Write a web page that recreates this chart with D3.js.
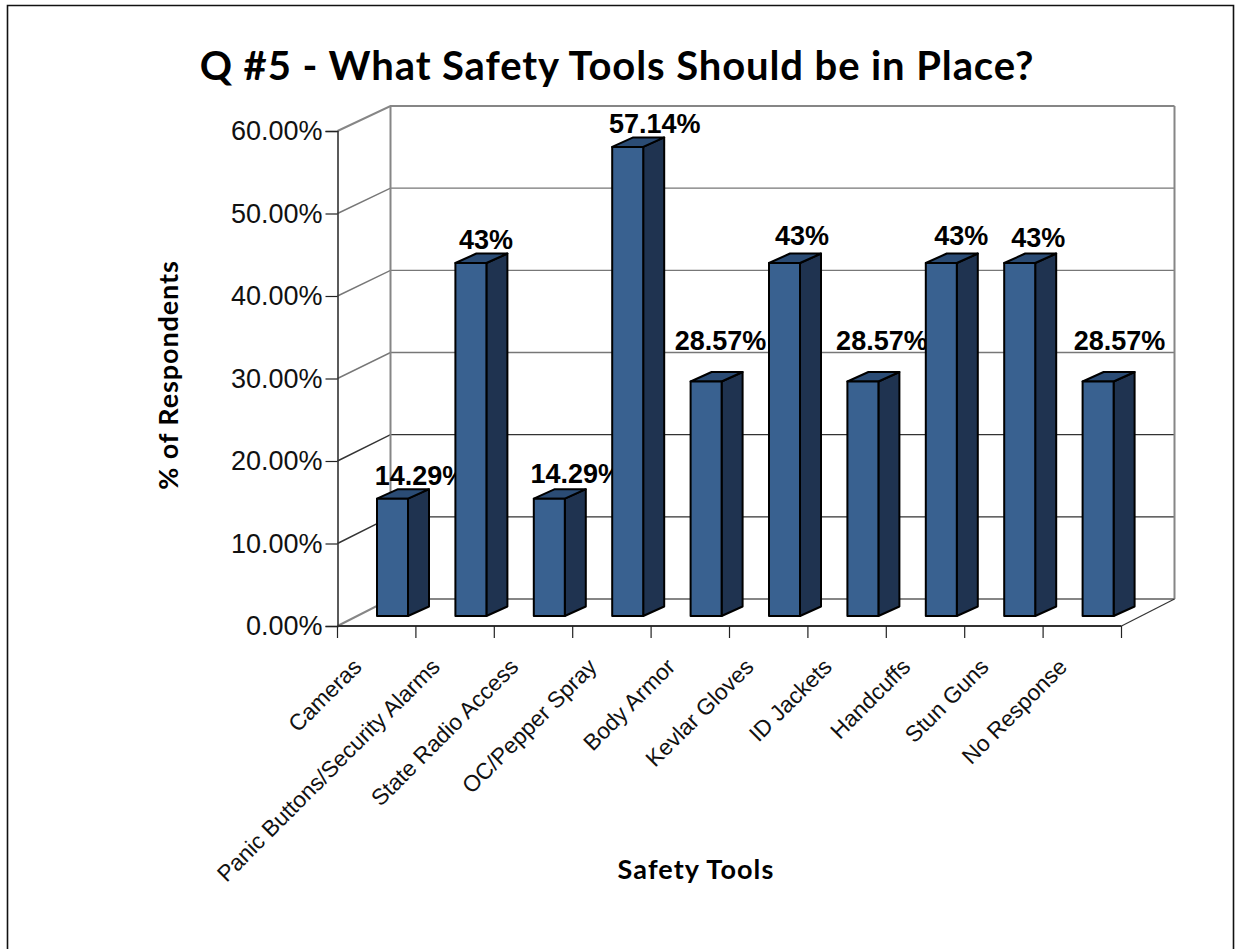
<!DOCTYPE html>
<html>
<head>
<meta charset="utf-8">
<script src="https://cdn.jsdelivr.net/npm/d3@7"></script>
<style>
  html, body { margin: 0; background: #fff; }
  svg { display: block; }
</style>
</head>
<body>
<script>
const categories = ["Cameras", "Panic Buttons/Security Alarms", "State Radio Access", "OC/Pepper Spray",
  "Body Armor", "Kevlar Gloves", "ID Jackets", "Handcuffs", "Stun Guns", "No Response"];
const values = [14.29, 43, 14.29, 57.14, 28.57, 43, 28.57, 43, 43, 28.57];
const valueLabels = ["14.29%", "43%", "14.29%", "57.14%", "28.57%", "43%", "28.57%", "43%", "43%", "28.57%"];
const yTicks = [0, 10, 20, 30, 40, 50, 60];

// hand placed data labels, same as in the original chart
const labelDx = [28, 15, 27, 27, 14.5, 17.5, 19, 20, 18.5, 21.5];
const labelDy = [-4, -4.5, -6, -4, -22, -8.5, -22, -8.5, -6.5, -22];

const W = 1235, H = 949;
const depthX = 53;                   // floor depth, front axis to back wall
const barDepth = { x: 21, y: -9.5 }; // depth of a bar
const barFrontY = -10;               // bars stand a bit behind the front axis

const svg = d3.select("body").append("svg").attr("width", W).attr("height", H);

const x = d3.scaleBand().domain(categories).range([337.5, 1121.5]);
const y = d3.scaleLinear().domain([0, 60]).range([626, 131]);
const yBack = d3.scaleLinear().domain([0, 60]).range([599, 106]);
const xEdges = categories.map(c => x(c)).concat(x.range()[1]);

svg.append("path")
  .attr("d", `M7.5,${H}V5.5H1233.5V${H}`)
  .attr("fill", "none").attr("stroke", "#111").attr("stroke-width", 1.6);

// walls and gridlines
const grid = svg.append("g").attr("fill", "none");
yTicks.forEach(t => {
  const edge = t === 0 || t === 60;
  const stroke = edge ? "#868686" : (t >= 30 ? "#777" : "#333");
  const sw = edge ? 2 : 1.4;
  grid.append("path")
    .attr("d", `M${x.range()[0]},${y(t)}L${x.range()[0] + depthX},${yBack(t)}H${x.range()[1] + depthX}`)
    .attr("stroke", stroke).attr("stroke-width", sw);
});
[x.range()[0], x.range()[1]].forEach(px => {
  grid.append("path")
    .attr("d", `M${px + depthX},${yBack(0)}V${yBack(60)}`)
    .attr("stroke", "#868686").attr("stroke-width", 2);
});
grid.append("path")
  .attr("d", `M${x.range()[1]},${y(0)}L${x.range()[1] + depthX},${yBack(0)}`)
  .attr("stroke", "#333").attr("stroke-width", 1.2);

// axes
const yAxis = d3.axisLeft(y).tickValues(yTicks).tickSize(12).tickPadding(3).tickFormat(d => d3.format(".2f")(d) + "%");
const gy = svg.append("g").attr("transform", `translate(${x.range()[0]},0)`).call(yAxis);
gy.select(".domain").attr("stroke", "#333").attr("stroke-width", 1.6);
gy.selectAll("line").attr("stroke", "#222").attr("stroke-width", 1.2);
gy.selectAll("text")
  .attr("font-family", "'Liberation Sans', Arial, sans-serif").attr("font-size", 27).attr("fill", "#111");

const xAxisG = svg.append("g");
xAxisG.append("line")
  .attr("x1", x.range()[0]).attr("x2", x.range()[1]).attr("y1", y(0)).attr("y2", y(0))
  .attr("stroke", "#333").attr("stroke-width", 2);
xAxisG.selectAll("line.tick").data(xEdges).enter().append("line")
  .attr("class", "tick")
  .attr("x1", d => d).attr("x2", d => d).attr("y1", y(0)).attr("y2", y(0) + 12)
  .attr("stroke", "#222").attr("stroke-width", 1.2);

xAxisG.selectAll("text").data(categories).enter().append("text")
  .attr("transform", d => `translate(${x(d) + x.bandwidth() / 2 - 25},${y(0) + 31}) rotate(-45)`)
  .attr("text-anchor", "end")
  .attr("dy", "0.7em")
  .attr("font-family", "'Liberation Sans', Arial, sans-serif")
  .attr("font-size", 22.7)
  .attr("fill", "#111")
  .text(d => d);

const barW = 31;
const barLeft = i => 377 + x.step() * i;
const barBase = y(0) + barFrontY;
const barTop = v => barBase - (y(0) - y(v)) * 0.995;

// data labels go under the bars, the next bar clips some of them
svg.selectAll("text.val").data(values).enter().append("text")
  .attr("class", "val")
  .attr("x", (d, i) => barLeft(i) + barW / 2 + labelDx[i])
  .attr("y", (d, i) => barTop(d) + barDepth.y + labelDy[i])
  .attr("text-anchor", "middle")
  .attr("font-family", "'Liberation Sans', Arial, sans-serif")
  .attr("font-weight", "bold")
  .attr("font-size", 27)
  .text((d, i) => valueLabels[i]);

// bars, front face + top + side
const bars = svg.selectAll("g.bar").data(values).enter().append("g").attr("class", "bar")
  .attr("stroke", "#000").attr("stroke-width", 2).attr("stroke-linejoin", "round");

bars.append("path")
  .attr("fill", "#1f3350")
  .attr("d", (d, i) => {
    const r = barLeft(i) + barW, t = barTop(d);
    return `M${r},${t}L${r + barDepth.x},${t + barDepth.y}V${barBase + barDepth.y}L${r},${barBase}Z`;
  });
bars.append("path")
  .attr("fill", "#2b4c75")
  .attr("d", (d, i) => {
    const l = barLeft(i), t = barTop(d);
    return `M${l},${t}L${l + barDepth.x},${t + barDepth.y}H${l + barW + barDepth.x}L${l + barW},${t}Z`;
  });
bars.append("rect")
  .attr("fill", "#396190")
  .attr("x", (d, i) => barLeft(i))
  .attr("y", d => barTop(d))
  .attr("width", barW)
  .attr("height", d => barBase - barTop(d));

// titles
svg.append("text")
  .attr("x", 617).attr("y", 80).attr("text-anchor", "middle")
  .attr("font-family", "Lato, sans-serif").attr("font-weight", "bold").attr("font-size", 40)
  .attr("letter-spacing", 0.9)
  .text("Q #5 - What Safety Tools Should be in Place?");
svg.append("text")
  .attr("x", 696).attr("y", 879).attr("text-anchor", "middle")
  .attr("font-family", "Lato, sans-serif").attr("font-weight", "bold").attr("font-size", 27)
  .attr("letter-spacing", 1.1)
  .text("Safety Tools");
svg.append("text")
  .attr("transform", "translate(178,375) rotate(-90)").attr("text-anchor", "middle")
  .attr("font-family", "Lato, sans-serif").attr("font-weight", "bold").attr("font-size", 27)
  .attr("letter-spacing", 0.9)
  .text("% of Respondents");
</script>
</body>
</html>
